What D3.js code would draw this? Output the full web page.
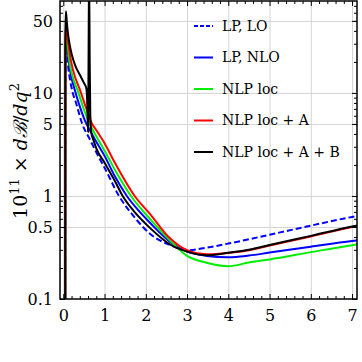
<!DOCTYPE html>
<html>
<head>
<meta charset="utf-8">
<script src="https://cdn.jsdelivr.net/npm/d3@7"></script>
<style>
  html, body { margin:0; padding:0; background:#fff; }
  svg { display:block; }
  svg text { font-family:"DejaVu Serif",serif !important; }
</style>
</head>
<body>
<div id="chart"></div>
<script>
// B -> ll decay spectrum, dB/dq^2 vs q^2 (log y)

// ---- data: [q2, 10^11 dB/dq2] ----
const lpLO = [
  [0.0447,0.001],[0.05,15],[0.065,28],[0.08,26],[0.1,21],[0.15,14.5],[0.23,10],
  [0.3,8.2],[0.46,5.0],[0.65,3.5],[0.8,2.65],[1.0,1.88],[1.35,1.0],[1.7,0.64],
  [2.1,0.43],[2.58,0.335],[3.0,0.297],[3.47,0.315],[4.0,0.345],[4.5,0.38],
  [5,0.42],[6,0.515],[7,0.625],[7.15,0.64]
];
const lpNLO = [
  [0.0447,0.001],[0.05,20],[0.065,35],[0.08,32],[0.1,27],[0.15,18],[0.3,10],
  [0.4,7.4],[0.56,5.0],[0.65,4.3],[0.8,3.35],[1.0,2.45],[1.25,1.55],[1.54,1.0],
  [1.8,0.74],[2.1,0.55],[2.58,0.36],[3.0,0.288],[3.47,0.262],[4.0,0.254],
  [4.5,0.264],[5,0.282],[6,0.322],[7,0.366],[7.15,0.372]
];
const nlpLoc = [
  [0.0447,0.001],[0.05,24],[0.065,40],[0.08,37],[0.1,31],[0.15,20],[0.37,10],
  [0.5,6.9],[0.64,5.0],[0.8,3.8],[1.0,2.75],[1.25,1.8],[1.64,1.0],[2.1,0.6],
  [2.58,0.372],[3.0,0.262],[3.47,0.225],[4.0,0.208],[4.5,0.226],[5,0.242],
  [6,0.285],[7,0.333],[7.15,0.34]
];
const nlpLocA = [
  [0.0447,0.001],[0.05,28],[0.065,48],[0.08,44],[0.1,37],[0.15,25],[0.43,10],
  [0.55,7.2],[0.7,5.0],[0.8,4.35],[1.0,3.25],[1.25,2.1],[1.73,1.0],[2.1,0.67],
  [2.58,0.39],[3.0,0.297],[3.47,0.272],[4.0,0.28],[4.5,0.297],[5,0.33],
  [6,0.405],[7,0.50],[7.15,0.515]
];
const nlpLocAB = [
  [0.0447,0.001],[0.05,35],[0.062,62],[0.08,52],[0.1,42],[0.15,30],[0.2,24],
  [0.3,18],[0.4,15],[0.5,12.5],[0.56,11],[0.585,7],[0.6,4.2],[0.612,20],
  [0.625,150],[0.64,20],[0.655,6],[0.68,4.1],[0.72,3.6],[0.8,2.9],[1.0,2.1],
  [1.25,1.4],[1.44,1.0],[1.7,0.72],[2.1,0.49],[2.58,0.34],[3.0,0.288],
  [3.47,0.266],[4.0,0.281],[4.5,0.3],[5,0.334],[6,0.41],[7,0.505],[7.15,0.52]
];

const seriesNames = ["LP, LO","LP, NLO","NLP loc","NLP loc + A","NLP loc + A + B"];
const seriesData = [lpLO, lpNLO, nlpLoc, nlpLocA, nlpLocAB];
const seriesColors = ["#0000ff","#0000ff","#00ee00","#ff0000","#000000"];
const seriesDash = ["6,3", null, null, null, null];

const xTicks = [0,1,2,3,4,5,6,7];
const yTicks = [0.1,0.5,1,5,10,50];
const yTickLabels = ["0.1","0.5","1","5","10","50"];

// ---- layout ----
const width = 362, height = 362;
const margin = {top:1, right:5, bottom:63, left:60};
const innerW = width - margin.left - margin.right;
const innerH = height - margin.top - margin.bottom;

const svg = d3.select("#chart").append("svg")
  .attr("width", width).attr("height", height);
const g = svg.append("g").attr("transform", `translate(${margin.left},${margin.top})`);

const x = d3.scaleLinear().domain([-0.08, 7.12]).range([0, innerW]);
const y = d3.scaleLog().domain([0.1, 78]).range([innerH, 0]);

g.append("clipPath").attr("id","clip")
  .append("rect").attr("width", innerW).attr("height", innerH);

// grid
const gridX = g.append("g").attr("transform", `translate(0,${innerH})`)
  .call(d3.axisBottom(x).tickValues(xTicks).tickSize(-innerH).tickFormat(""));
const gridY = g.append("g")
  .call(d3.axisLeft(y).tickValues(yTicks.slice(1)).tickSize(-innerW).tickFormat(""));
[gridX, gridY].forEach(s => {
  s.select(".domain").remove();
  s.selectAll("line").attr("stroke","#d4d4d4").attr("stroke-width",1);
});

// curves
const line = d3.line()
  .x(d => x(d[0]))
  .y(d => y(d[1]))
  .curve(d3.curveMonotoneX);

const curves = g.append("g").attr("clip-path","url(#clip)");
seriesData.forEach((data, i) => {
  curves.append("path")
    .datum(data)
    .attr("fill","none")
    .attr("stroke", seriesColors[i])
    .attr("stroke-width", 2)
    .attr("stroke-dasharray", seriesDash[i])
    .attr("d", line);
});

// axes with inward ticks on all sides
const xMinor = d3.range(0, 7.1, 0.2).filter(v => Math.abs(v - Math.round(v)) > 1e-6);
const yMinor = [];
[0.1,1,10].forEach(dec => { for (let k=2;k<=9;k++) if (dec*k < 78) yMinor.push(dec*k); });

function styleAxis(sel){
  sel.select(".domain").remove();
  sel.selectAll("line").attr("stroke","#000").attr("stroke-width",1);
}

g.append("g").attr("transform", `translate(0,${innerH})`)
  .call(d3.axisBottom(x).tickValues(xTicks).tickSize(-5).tickPadding(11)
    .tickFormat(d3.format("d")))
  .call(styleAxis)
  .selectAll("text").attr("font-size", 16).attr("fill","#000");
g.append("g").attr("transform", `translate(0,${innerH})`)
  .call(d3.axisBottom(x).tickValues(xMinor).tickSize(-3).tickFormat(""))
  .call(styleAxis);
g.append("g")
  .call(d3.axisTop(x).tickValues(xTicks).tickSize(-5).tickFormat(""))
  .call(styleAxis);
g.append("g")
  .call(d3.axisTop(x).tickValues(xMinor).tickSize(-3).tickFormat(""))
  .call(styleAxis);

g.append("g")
  .call(d3.axisLeft(y).tickValues(yTicks).tickSize(-5).tickPadding(7)
    .tickFormat((d,i) => yTickLabels[i]))
  .call(styleAxis)
  .selectAll("text").attr("font-size", 16).attr("fill","#000");
g.append("g")
  .call(d3.axisLeft(y).tickValues(yMinor).tickSize(-3).tickFormat(""))
  .call(styleAxis);
g.append("g").attr("transform", `translate(${innerW},0)`)
  .call(d3.axisRight(y).tickValues(yTicks).tickSize(-5).tickFormat(""))
  .call(styleAxis);
g.append("g").attr("transform", `translate(${innerW},0)`)
  .call(d3.axisRight(y).tickValues(yMinor).tickSize(-3).tickFormat(""))
  .call(styleAxis);

// frame
g.append("rect").attr("width", innerW).attr("height", innerH)
  .attr("fill","none").attr("stroke","#000").attr("stroke-width",1.5);

// y label
const yl = svg.append("text")
  .attr("transform", `translate(27,${margin.top + 150}) rotate(-90)`)
  .attr("text-anchor","middle")
  .attr("font-size", 19);
yl.append("tspan").text("10");
yl.append("tspan").attr("font-size", 13).attr("dy", -8).text("11");
yl.append("tspan").attr("dy", 8).text(" × ");
yl.append("tspan").attr("font-style","italic").text("d");
yl.append("tspan").attr("font-style","italic").text("ℬ");
yl.append("tspan").text("/");
yl.append("tspan").attr("font-style","italic").text("dq");
yl.append("tspan").attr("font-size", 13).attr("dy", -8).text("2");

// legend
const legend = svg.append("g");
const rowY = [26, 57.5, 89, 120.5, 152];
seriesNames.forEach((name, i) => {
  legend.append("line")
    .attr("x1",194).attr("x2",213).attr("y1",rowY[i]).attr("y2",rowY[i])
    .attr("stroke", seriesColors[i]).attr("stroke-width",2)
    .attr("stroke-dasharray", seriesDash[i] ? "4,2" : null);
  legend.append("text")
    .attr("x",222).attr("y",rowY[i]).attr("dy","0.35em")
    .attr("font-size",14)
    .text(name);
});
</script>
</body>
</html>
